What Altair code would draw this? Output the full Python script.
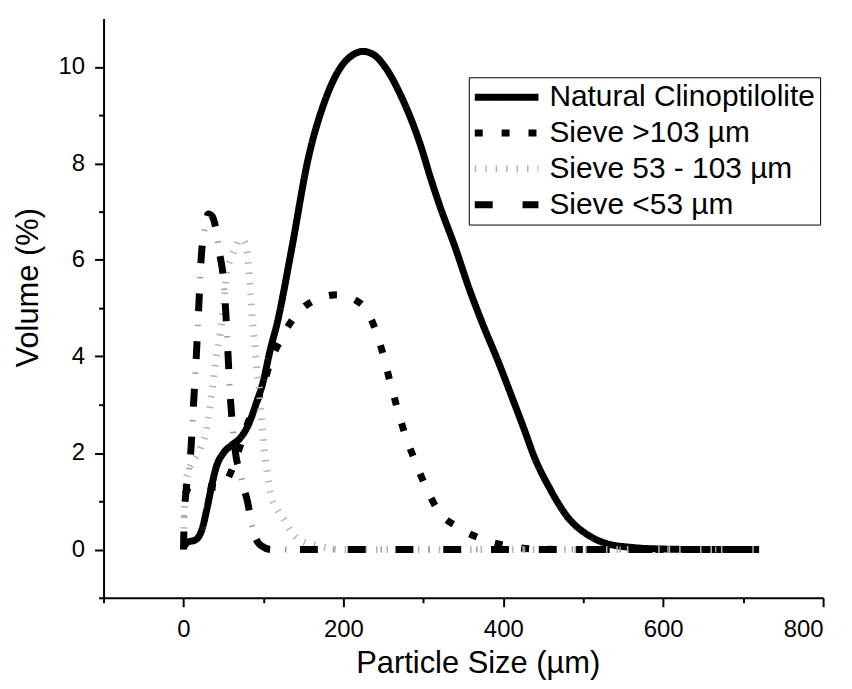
import pandas as pd
import altair as alt

series_names = ["Natural Clinoptilolite", "Sieve >103 µm", "Sieve 53 - 103 µm", "Sieve <53 µm"]

natural_x = [0, 5, 15, 23, 29, 35, 41, 50, 60, 71, 81, 91, 100, 108, 118, 135, 156, 177, 197,
             212, 224, 238, 252, 272, 285, 297, 309, 321, 340, 357, 374, 393, 411, 427, 438,
             459, 480, 505, 530, 563, 600, 650, 720]
natural_y = [0.05, 0.15, 0.2, 0.41, 0.82, 1.3, 1.71, 2.0, 2.16, 2.31, 2.58, 3.03, 3.5, 4.1, 4.75,
             6.2, 8.1, 9.3, 10.0, 10.25, 10.32, 10.25, 10.0, 9.4, 8.9, 8.35, 7.7, 7.1, 6.25, 5.42,
             4.68, 3.92, 3.15, 2.45, 1.95, 1.24, 0.68, 0.31, 0.12, 0.04, 0.01, 0, 0]

coarse_x = [2, 8, 22, 46, 55, 62, 70, 80, 90, 100, 108, 121, 137, 160, 193, 222, 239, 249, 258,
            267, 277, 289, 303, 318, 345, 376, 411, 440, 480, 720]
coarse_y = [1.15, 1.3, 1.32, 1.28, 1.45, 1.72, 2.1, 2.6, 3.0, 3.4, 3.85, 4.33, 4.78, 5.13, 5.28,
            5.09, 4.6, 4.08, 3.5, 2.95, 2.39, 1.86, 1.3, 0.82, 0.45, 0.2, 0.06, 0.01, 0, 0]

medium_x = [0, 2.5, 6, 21, 29, 35, 41, 46, 50, 54, 60, 65, 70, 75, 80, 84, 87, 90, 92, 95, 97,
            99, 101, 105, 110, 116, 125, 133, 141, 153, 168, 185, 200, 720]
medium_y = [0, 1.4, 1.6, 2.1, 2.5, 3.2, 4.0, 4.47, 5.0, 5.73, 6.05, 6.25, 6.42, 6.4, 6.1, 5.3,
            4.6, 4.08, 3.7, 3.3, 2.8, 2.4, 2.06, 1.57, 1.09, 0.87, 0.64, 0.41, 0.25, 0.14, 0.08,
            0.02, 0, 0]

fine_x = [0, 1, 3, 9, 12.5, 16, 19, 22, 27, 31, 36, 41, 45, 50, 54, 58, 62, 66, 71, 75, 80, 85,
          90, 97, 110, 125, 720]
fine_y = [0, 0.7, 1.17, 2.0, 3.0, 4.0, 5.0, 6.0, 6.7, 6.95, 6.9, 6.6, 6.15, 5.6, 4.6, 3.3, 2.45,
          1.9, 1.6, 1.3, 1.0, 0.55, 0.25, 0.08, 0, 0, 0]

frames = []
for name, xs, ys in zip(series_names,
                        [natural_x, coarse_x, medium_x, fine_x],
                        [natural_y, coarse_y, medium_y, fine_y]):
    frames.append(pd.DataFrame({"size": xs, "volume": ys, "series": name}))
df = pd.concat(frames, ignore_index=True)

legend = alt.Legend(
    title=None, orient="none", legendX=367, legendY=59,
    strokeColor="black", fillColor="white", padding=5,
    labelFontSize=30, labelFont="Liberation Sans", labelColor="black", labelLimit=400,
    symbolType="M-4,0H4", symbolSize=256, symbolStrokeWidth=6,
    symbolOffset=18, labelOffset=28, rowPadding=6,
)

x_enc = alt.X(
    "size:Q", title="Particle Size (µm)",
    scale=alt.Scale(domain=[-100, 800], nice=False, zero=False),
    axis=alt.Axis(
        values=list(range(-100, 801, 100)),
        labelExpr="datum.value % 200 === 0 && datum.value >= 0 ? datum.label : ''",
        tickSize={"condition": {"test": "datum.value % 200 === 0", "value": 9}, "value": 5},
        labelPadding=11, titlePadding=7, titleX=376,
    ),
)
y_enc = alt.Y(
    "volume:Q", title="Volume (%)",
    scale=alt.Scale(domain=[-1, 11], nice=False, zero=False),
    axis=alt.Axis(
        values=list(range(-1, 11)),
        labelExpr="datum.value % 2 === 0 && datum.value >= 0 ? datum.label : ''",
        tickSize={"condition": {"test": "datum.value % 2 === 0", "value": 9}, "value": 5},
        labelPadding=10, titlePadding=14, titleY=270,
    ),
)

lines = alt.Chart(df).mark_line(interpolate="monotone", strokeCap="butt").encode(
    x=x_enc,
    y=y_enc,
    color=alt.Color("series:N", sort=series_names, legend=legend,
                    scale=alt.Scale(domain=series_names,
                                    range=["black", "black", "#b4b4b4", "black"])),
    strokeDash=alt.StrokeDash("series:N", sort=series_names, legend=legend,
                              scale=alt.Scale(domain=series_names,
                                              range=[[1, 0], [8, 19], [1.5, 9], [18, 30]])),
    strokeWidth=alt.StrokeWidth("series:N", legend=None,
                                scale=alt.Scale(domain=series_names, range=[7, 7, 6, 6])),
)

# light dots between the dashes of the dash-dot curve
dots = alt.Chart(df).transform_filter(
    alt.datum.series == "Sieve <53 µm"
).mark_line(
    interpolate="monotone", color="#9a9a9a", strokeWidth=6,
    strokeDash=[1.5, 46.5], strokeDashOffset=15,
).encode(x=x_enc, y=y_enc)

chart = alt.layer(lines, dots).properties(
    width=723, height=582,
    autosize=alt.AutoSizeParams(type="none"),
    padding={"left": 96, "top": 9, "right": 21, "bottom": 82},
).configure_view(stroke=None).configure_axis(
    grid=False, domainColor="black", domainWidth=2, tickColor="black", tickWidth=2,
    labelFont="Liberation Sans", labelFontSize=24, labelColor="black",
    titleFont="Liberation Sans", titleFontSize=31, titleFontWeight="normal", titleColor="black",
)

chart.save("out.html", embed_options={"renderer": "svg", "actions": False})
